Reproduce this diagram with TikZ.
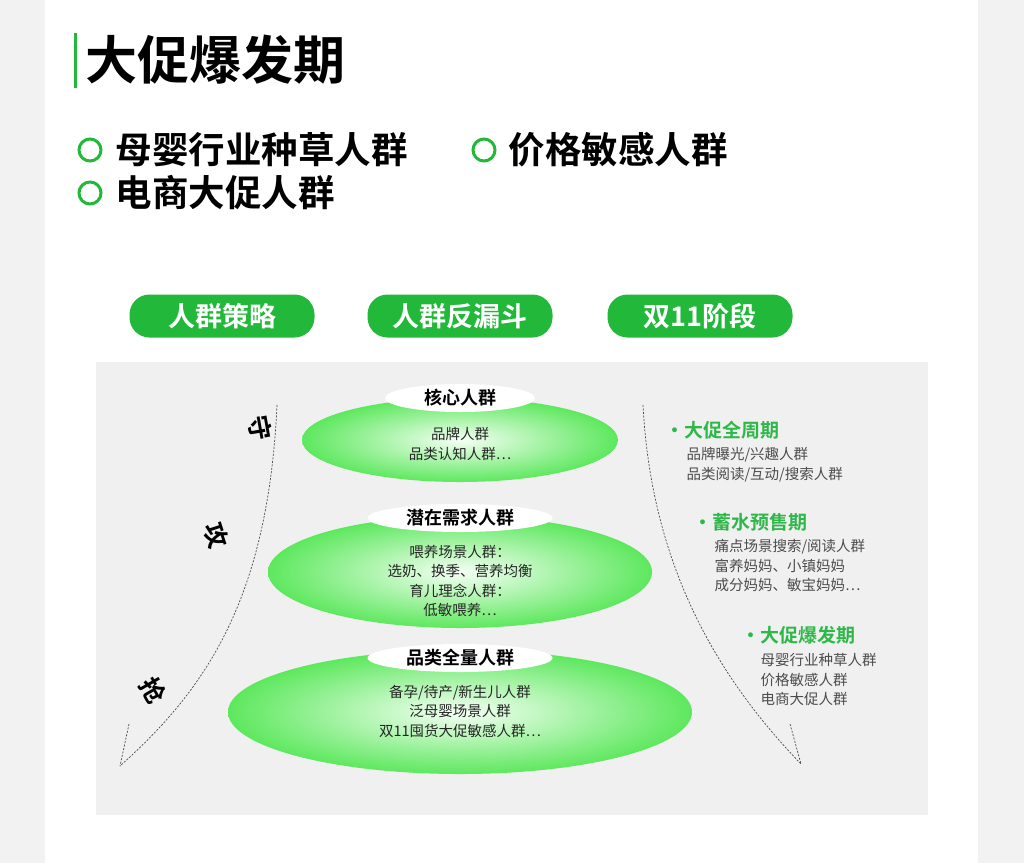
\documentclass[tikz,border=0pt]{standalone}
\usepackage{fontspec}
\setmainfont{Noto Sans CJK SC}
\newfontfamily\cjkb{Noto Sans CJK SC Bold}
\usetikzlibrary{shapes.geometric}
\definecolor{gr}{HTML}{22B83A}
\definecolor{lg}{HTML}{5EE85E}
\definecolor{tg}{HTML}{2FB84A}
\begin{document}
\begin{tikzpicture}[x=1pt,y=-1pt,
  body/.style={font=\fontsize{14.5}{19.5}\selectfont, text=black!85, align=center},
  ttl/.style={font=\cjkb\fontsize{18}{20}\selectfont, fill=white, ellipse, inner sep=1pt, minimum height=28pt},
  pill/.style={fill=gr, rounded corners=20pt, minimum width=185pt, minimum height=43pt, text=white, font=\cjkb\fontsize{27}{28}\selectfont},
  bul/.style={circle, draw=gr, line width=3pt, minimum size=22pt, inner sep=0pt},
  btxt/.style={anchor=west, font=\cjkb\fontsize{36.5}{38}\selectfont},
  stage/.style={anchor=west, text=tg, font=\cjkb\fontsize{19}{22}\selectfont},
  sub/.style={anchor=north west, text=black!70, align=left, font=\fontsize{14.5}{19.3}\selectfont},
  rot/.style={font=\cjkb\fontsize{25}{26}\selectfont},
  dl/.style={dashed, dash pattern=on 2pt off 1.5pt, line width=0.7pt, black!70}]
\useasboundingbox (0,0) rectangle (1024,863);
\fill[black!5] (0,0) rectangle (1024,863);
\fill[white] (45,0) rectangle (978,863);
% title
\fill[gr] (74,33) rectangle (77,88);
\node[anchor=west, font=\cjkb\fontsize{52}{56}\selectfont] (title) at (82,60) {大促爆发期};
\node[bul] (b1) at (90,150) {};
\node[btxt] (t1) at (112,150) {母婴行业种草人群};
\node[bul] (b2) at (484,150) {};
\node[btxt] (t2) at (505,150) {价格敏感人群};
\node[bul] (b3) at (90,193) {};
\node[btxt] (t3) at (112,193) {电商大促人群};
% pills
\node[pill] (p1) at (222,316) {人群策略};
\node[pill] (p2) at (460,316) {人群反漏斗};
\node[pill] (p3) at (700,316) {双11阶段};
% panel
\fill[black!6] (96,362) rectangle (928,815);
% ellipses
\shade[inner color=green!4, outer color=lg] (460,440) ellipse [x radius=158, y radius=42];
\shade[inner color=green!4, outer color=lg] (460,572) ellipse [x radius=192, y radius=56];
\shade[inner color=green!4, outer color=lg] (460,712) ellipse [x radius=232, y radius=62];
\node[ttl, minimum width=150pt] (h1) at (460,398) {核心人群};
\node[ttl, minimum width=185pt] (h2) at (460,518) {潜在需求人群};
\node[ttl, minimum width=185pt] (h3) at (460,658) {品类全量人群};
\node[body] (e1) at (460,444) {品牌人群\\品类认知人群…};
\node[body] (e2) at (460,581) {喂养场景人群：\\选奶、换季、营养均衡\\育儿理念人群：\\低敏喂养…};
\node[body] (e3) at (460,711) {备孕/待产/新生儿人群\\泛母婴场景人群\\双11囤货大促敏感人群…};
% curves
\coordinate (L0) at (277,405); \coordinate (L1) at (120,766); \coordinate (L2) at (129,724);
\coordinate (R0) at (643,405); \coordinate (R1) at (801,764); \coordinate (R2) at (790,724);
\draw[dl] (L0) .. controls (268,600) and (205,690) .. (L1);
\draw[dl] (L2) -- (L1);
\draw[dl] (R0) .. controls (652,580) and (730,690) .. (R1);
\draw[dl] (R2) -- (R1);
\node[rot, rotate=-80] (s1) at (260,428) {守};
\node[rot, rotate=-72] (s2) at (216,535) {攻};
\node[rot, rotate=-60] (s3) at (153,690) {抢};
% right texts
\node[stage] (r1) at (662,430) {·大促全周期};
\node[sub] (r1s) at (683,444) {品牌曝光/兴趣人群\\品类阅读/互动/搜索人群};
\node[stage] (r2) at (690,522) {·蓄水预售期};
\node[sub] (r2s) at (711,536) {痛点场景搜索/阅读人群\\富养妈妈、小镇妈妈\\成分妈妈、敏宝妈妈…};
\node[stage] (r3) at (738,635) {·大促爆发期};
\node[sub] (r3s) at (757,650) {母婴行业种草人群\\价格敏感人群\\电商大促人群};
\end{tikzpicture}
\end{document}
